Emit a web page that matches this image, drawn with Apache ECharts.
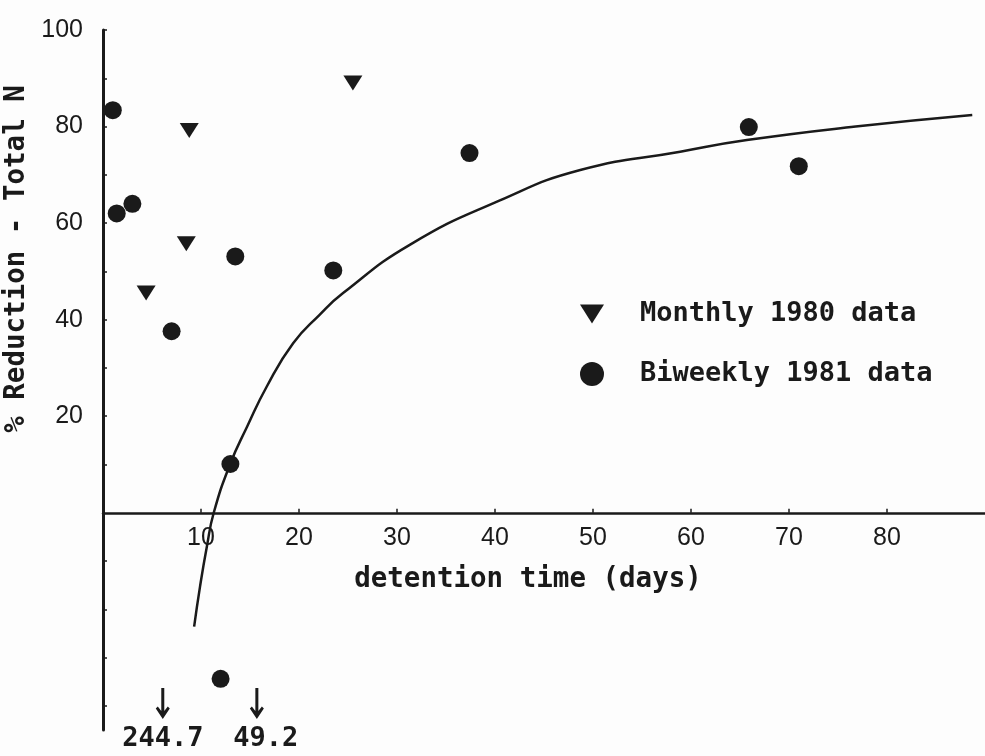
<!DOCTYPE html>
<html>
<head>
<meta charset="utf-8">
<script src="https://cdn.jsdelivr.net/npm/echarts@6/dist/echarts.min.js"></script>
<style>
  html, body { margin: 0; padding: 0; background: #fdfdfd; }
  #chart { width: 985px; height: 756px; }
</style>
</head>
<body>
<div id="chart"></div>
<script>
// Monthly 1980 data (down triangles)
const monthlyX = [4.4, 8.5, 8.8, 25.5];
const monthlyY = [45.5, 55.7, 79.2, 89.0];

// Biweekly 1981 data (circles)
const biweeklyX = [1.0, 1.4, 3.0, 7.0, 12.0, 13.0, 13.5, 23.5, 37.4, 65.9, 71.0];
const biweeklyY = [83.4, 62.0, 64.0, 37.6, -34.4, 10.1, 53.1, 50.2, 74.5, 79.9, 71.8];

// fitted curve, points
const curveX = [9.3, 9.9, 10.6, 11.3, 13.0, 14.7, 16.7, 19.4, 22.1, 24.5, 31.3, 40.5, 48.7, 58.9, 65.7, 76.8, 88.7];
const curveY = [-23.6, -15.3, -7.0, 0, 10.2, 17.8, 26.1, 35.1, 41.0, 45.5, 55.5, 64.7, 71.0, 74.8, 77.2, 80.0, 82.4];

// off-scale values, marked with arrows under the plot
const arrowX = [6.1, 15.7];
const arrowY = [-39.5, -39.5];
const arrowText = ["244.7", "49.2"];

const xTicks = [10, 20, 30, 40, 50, 60, 70, 80];
const yTicks = [-40, -30, -20, -10, 10, 20, 30, 40, 50, 60, 70, 80, 90, 100];
const yLabels = [20, 40, 60, 80, 100];

const ink = "#1a1a1a";
const monoFont = "'DejaVu Sans Mono', monospace";
const numFont = "'Liberation Sans', Arial, sans-serif";
const downTriangle = "path://M0,0 L20,0 L10,16 Z";
const arrowPath = "path://M5.5,0 L8.5,0 L8.5,23 L12,18.5 L14,20.5 L7,31 L0,20.5 L2,18.5 L5.5,23 Z";

const zip = (xs, ys) => xs.map((x, i) => [x, ys[i]]);

// plot area: y from -45 to 100 over 700px, x axis drawn at y = 0
const gridTop = 30, gridHeight = 700;
const yMin = -45, yMax = 100;
const zeroShift = gridHeight * (0 - yMin) / (yMax - yMin);

const chart = echarts.init(document.getElementById("chart"));

chart.setOption({
  animation: false,
  backgroundColor: "#fdfdfd",
  grid: {
    left: 103, right: 0, top: gridTop, height: gridHeight,
    containLabel: false,
    outerBoundsMode: "none"
  },
  legend: {
    orient: "vertical",
    left: 575,
    top: 294,
    itemWidth: 24,
    itemHeight: 24,
    itemGap: 30,
    data: ["Monthly 1980 data", "Biweekly 1981 data"],
    textStyle: {
      fontFamily: monoFont, fontWeight: "bold", fontSize: 27,
      color: ink, lineHeight: 30, padding: [0, 0, 0, 31]
    }
  },
  xAxis: {
    type: "value",
    min: 0, max: 90,
    offset: -zeroShift,
    name: "detention time (days)",
    nameLocation: "middle",
    nameGap: 53,
    nameTextStyle: {
      fontFamily: monoFont, fontWeight: "bold", fontSize: 27.5,
      color: ink, padding: [0, 32, 0, 0]
    },
    axisLine: { onZero: false, lineStyle: { color: ink, width: 2.5 } },
    axisTick: { inside: true, length: 4, customValues: xTicks, lineStyle: { color: ink, width: 1.5 } },
    axisLabel: {
      customValues: xTicks, margin: 13,
      fontFamily: numFont, fontSize: 25, color: ink
    },
    splitLine: { show: false }
  },
  yAxis: {
    type: "value",
    min: yMin, max: yMax,
    name: "% Reduction - Total N",
    nameLocation: "middle",
    nameRotate: 90,
    nameGap: 58,
    nameTextStyle: {
      fontFamily: monoFont, fontWeight: "bold", fontSize: 27.5,
      color: ink, padding: [0, 0, 0, 242]
    },
    axisLine: { show: true, lineStyle: { color: ink, width: 3 } },
    axisTick: { show: true, inside: true, length: 4, customValues: yTicks, lineStyle: { color: ink, width: 1.5 } },
    axisLabel: {
      customValues: yLabels, margin: 20,
      fontFamily: numFont, fontSize: 25, color: ink
    },
    splitLine: { show: false }
  },
  series: [
    {
      name: "fit",
      type: "line",
      data: zip(curveX, curveY),
      smooth: 0.5,
      symbol: "none",
      lineStyle: { color: ink, width: 2.5 },
      z: 2
    },
    {
      name: "Monthly 1980 data",
      type: "scatter",
      data: zip(monthlyX, monthlyY),
      symbol: downTriangle,
      symbolSize: [19, 15],
      itemStyle: { color: ink, opacity: 1 },
      z: 3
    },
    {
      name: "Biweekly 1981 data",
      type: "scatter",
      data: zip(biweeklyX, biweeklyY),
      symbol: "circle",
      symbolSize: 18,
      itemStyle: { color: ink, opacity: 1 },
      z: 3
    },
    {
      name: "off-scale",
      type: "scatter",
      data: zip(arrowX, arrowY).map((p, i) => ({
        value: p,
        label: { offset: i === 1 ? [9, 0] : [0, 0] }
      })),
      symbol: arrowPath,
      symbolSize: [14, 31],
      itemStyle: { color: ink, opacity: 1 },
      label: {
        show: true,
        position: "bottom",
        distance: 7,
        formatter: (p) => arrowText[p.dataIndex],
        fontFamily: monoFont, fontWeight: "bold", fontSize: 27, color: ink
      },
      z: 3
    }
  ]
});
</script>
</body>
</html>
